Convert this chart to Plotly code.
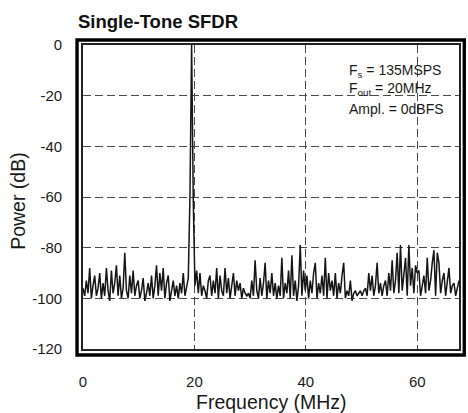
import plotly.graph_objects as go

# ---- data ----
freq_step_mhz = 0.3
power_db = [
    -96, -99, -93, -98, -88, -100, -95, -91, -99, -96,
    -90, -100, -94, -99, -88, -97, -101, -89, -98, -94,
    -87, -99, -91, -100, -96, -82, -97, -100, -91, -98,
    -89, -99, -95, -93, -100, -97, -92, -101, -98, -94,
    -99, -91, -100, -95, -87, -99, -90, -97, -88, -100,
    -94, -91, -101, -96, -93, -99, -95, -100, -94, -98,
    -90, -99, -96, -92, -60, 0, -62, -95, -89, -98,
    -90, -99, -95, -97, -100, -93, -91, -99, -93, -98,
    -88, -100, -91, -97, -99, -88, -98, -92, -100, -95,
    -90, -99, -93, -97, -94, -100, -96, -98, -99, -98,
    -100, -93, -99, -85, -97, -100, -92, -99, -94, -86,
    -100, -93, -98, -90, -99, -94, -100, -95, -99, -84,
    -100, -94, -98, -89, -100, -83, -99, -93, -101, -95,
    -79, -99, -89, -97, -91, -100, -93, -98, -90, -86,
    -100, -94, -98, -91, -99, -84, -100, -90, -97, -93,
    -99, -90, -100, -94, -98, -91, -86, -100, -97, -99,
    -93, -101, -98, -97, -99, -98, -97, -99, -97, -96,
    -99, -90, -97, -91, -99, -95, -86, -98, -94, -99,
    -95, -93, -99, -90, -97, -85, -98, -93, -82, -98,
    -79, -97, -91, -84, -99, -79, -95, -88, -98, -87,
    -90, -89, -99, -95, -91, -98, -84, -97, -93, -86,
    -81, -99, -82, -86, -98, -93, -90, -99, -94, -88,
    -98, -95, -94, -99, -96, -93,
]
freq_mhz = [round(i * freq_step_mhz, 2) for i in range(len(power_db))]

x_ticks = [0, 20, 40, 60]
y_ticks = [0, -20, -40, -60, -80, -100, -120]

title_text = "Single-Tone SFDR"
x_title = "Frequency (MHz)"
y_title = "Power (dB)"
note_lines = ["F<sub>s</sub> = 135MSPS", "F<sub>out</sub> = 20MHz", "Ampl. = 0dBFS"]

# ---- geometry ----
W, H = 468, 413
L, R, T, B = 83, 7, 45, 64
pw, ph = W - L - R, H - T - B

def px_x(px):
    return (px - L) / pw

def px_y(py):
    return (H - B - py) / ph

FONT = "Liberation Sans, Arial, sans-serif"

fig = go.Figure()
fig.add_trace(go.Scatter(
    x=freq_mhz, y=power_db, mode="lines",
    line=dict(color="#151515", width=1.5),
    showlegend=False, hoverinfo="skip",
))

grid = dict(showgrid=True, gridcolor="#4a4a4a", gridwidth=1.1, griddash="8px,4px")

fig.update_xaxes(
    range=[0, 67.5], tickvals=x_ticks, ticktext=[str(v) for v in x_ticks],
    ticks="outside", ticklen=18, tickcolor="rgba(0,0,0,0)",
    tickfont=dict(family=FONT, size=15, color="#1a1a1a"),
    showline=True, mirror=True, linecolor="#222", linewidth=1.6,
    zeroline=False, **grid,
)
fig.update_yaxes(
    range=[-120, 0], tickvals=y_ticks, ticktext=[str(v) for v in y_ticks],
    ticks="outside", ticklen=16, tickcolor="rgba(0,0,0,0)",
    tickfont=dict(family=FONT, size=15, color="#1a1a1a"),
    showline=True, mirror=True, linecolor="#222", linewidth=1.6,
    zeroline=False, **grid,
)

# outer thick frame
fig.add_shape(
    type="rect", xref="paper", yref="paper",
    x0=px_x(77), x1=px_x(466.3), y0=px_y(355), y1=px_y(40),
    line=dict(color="#000", width=3.4), fillcolor="rgba(0,0,0,0)", layer="above",
)

annotations = [
    dict(text="<b>" + title_text + "</b>", xref="paper", yref="paper",
         x=px_x(76), y=px_y(21.5), xanchor="left", yanchor="middle",
         showarrow=False, font=dict(family=FONT, size=18.5, color="#111")),
    dict(text=x_title, xref="paper", yref="paper",
         x=px_x(272), y=px_y(402), xanchor="center", yanchor="middle",
         showarrow=False, font=dict(family=FONT, size=19.5, color="#1a1a1a")),
    dict(text=y_title, xref="paper", yref="paper",
         x=px_x(17.5), y=px_y(201), xanchor="center", yanchor="middle",
         textangle=-90, showarrow=False,
         font=dict(family=FONT, size=19.5, color="#1a1a1a")),
]
for line, cy in zip(note_lines, [70.7, 89.3, 109.3]):
    annotations.append(dict(
        text=line, xref="paper", yref="paper",
        x=px_x(348.5), y=px_y(cy), xanchor="left", yanchor="middle",
        showarrow=False, font=dict(family=FONT, size=14, color="#1a1a1a"),
    ))

fig.update_layout(
    width=W, height=H, autosize=False,
    margin=dict(l=L, r=R, t=T, b=B, pad=0),
    paper_bgcolor="white", plot_bgcolor="white",
    annotations=annotations,
    font=dict(family=FONT),
)

fig.write_html(
    "out.html",
    config={"displayModeBar": False},
    post_script="document.body.style.margin='0';document.body.style.overflow='hidden';",
)
